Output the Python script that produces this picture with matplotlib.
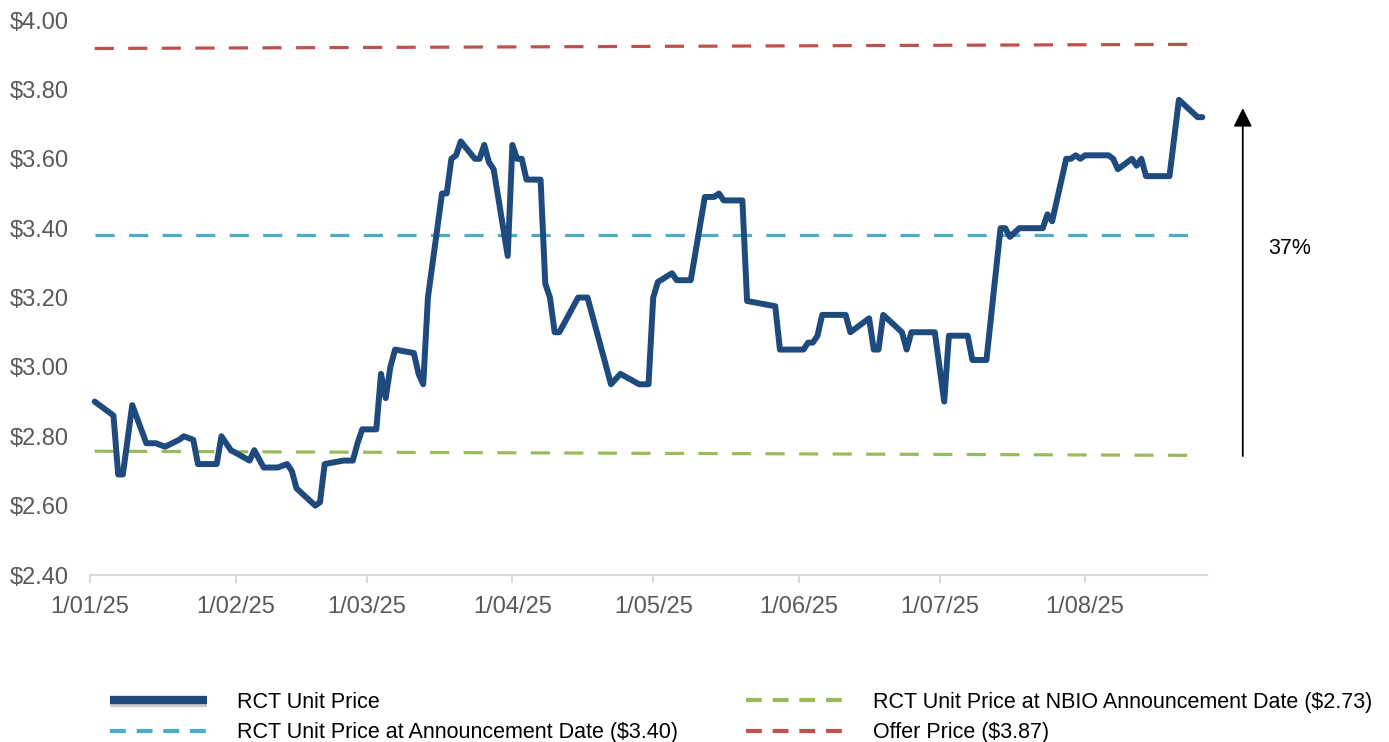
import pandas as pd
import matplotlib
matplotlib.use('Agg')
import matplotlib.pyplot as plt
import matplotlib.patheffects as pe
from matplotlib.ticker import StrMethodFormatter

plt.rcParams['font.family'] = ['Liberation Sans', 'DejaVu Sans']

# RCT unit price
price_dates = [
    '2025-01-02', '2025-01-06', '2025-01-07', '2025-01-08', '2025-01-10',
    '2025-01-13', '2025-01-15', '2025-01-17', '2025-01-20', '2025-01-21',
    '2025-01-23', '2025-01-24', '2025-01-28', '2025-01-29', '2025-01-31',
    '2025-02-04', '2025-02-05', '2025-02-07', '2025-02-10', '2025-02-12',
    '2025-02-13', '2025-02-14', '2025-02-18', '2025-02-19', '2025-02-20',
    '2025-02-24', '2025-02-26', '2025-02-27', '2025-02-28', '2025-03-03',
    '2025-03-04', '2025-03-05', '2025-03-06', '2025-03-07', '2025-03-11',
    '2025-03-12', '2025-03-13', '2025-03-14', '2025-03-17', '2025-03-18',
    '2025-03-19', '2025-03-20', '2025-03-21', '2025-03-24', '2025-03-25',
    '2025-03-26', '2025-03-27', '2025-03-28', '2025-03-31', '2025-04-01',
    '2025-04-02', '2025-04-03', '2025-04-04', '2025-04-07', '2025-04-08',
    '2025-04-09', '2025-04-10', '2025-04-11', '2025-04-15', '2025-04-17',
    '2025-04-22', '2025-04-24', '2025-04-28', '2025-04-30', '2025-05-01',
    '2025-05-02', '2025-05-05', '2025-05-06', '2025-05-09', '2025-05-12',
    '2025-05-14', '2025-05-15', '2025-05-16', '2025-05-20', '2025-05-21',
    '2025-05-23', '2025-05-27', '2025-05-28', '2025-06-02', '2025-06-03',
    '2025-06-04', '2025-06-05', '2025-06-06', '2025-06-11', '2025-06-12',
    '2025-06-16', '2025-06-17', '2025-06-18', '2025-06-19', '2025-06-23',
    '2025-06-24', '2025-06-25', '2025-06-30', '2025-07-02', '2025-07-03',
    '2025-07-07', '2025-07-08', '2025-07-11', '2025-07-14', '2025-07-15',
    '2025-07-16', '2025-07-18', '2025-07-23', '2025-07-24', '2025-07-25',
    '2025-07-28', '2025-07-29', '2025-07-30', '2025-07-31', '2025-08-01',
    '2025-08-06', '2025-08-07', '2025-08-08', '2025-08-11', '2025-08-12',
    '2025-08-13', '2025-08-14', '2025-08-19', '2025-08-21', '2025-08-25',
    '2025-08-26',
]
price_values = [
    2.90, 2.86, 2.69, 2.69, 2.89,
    2.78, 2.78, 2.77, 2.79, 2.80,
    2.79, 2.72, 2.72, 2.80, 2.76,
    2.73, 2.76, 2.71, 2.71, 2.72,
    2.70, 2.65, 2.60, 2.61, 2.72,
    2.73, 2.73, 2.78, 2.82, 2.82,
    2.98, 2.91, 3.00, 3.05, 3.04,
    2.98, 2.95, 3.20, 3.50, 3.50,
    3.60, 3.61, 3.65, 3.60, 3.60,
    3.64, 3.59, 3.57, 3.32, 3.64,
    3.60, 3.60, 3.54, 3.54, 3.24,
    3.20, 3.10, 3.10, 3.20, 3.20,
    2.95, 2.98, 2.95, 2.95, 3.20,
    3.245, 3.27, 3.25, 3.25, 3.49,
    3.49, 3.50, 3.48, 3.48, 3.19,
    3.185, 3.175, 3.05, 3.05, 3.07,
    3.07, 3.09, 3.15, 3.15, 3.10,
    3.14, 3.05, 3.05, 3.15, 3.10,
    3.05, 3.10, 3.10, 2.90, 3.09,
    3.09, 3.02, 3.02, 3.40, 3.40,
    3.375, 3.40, 3.40, 3.44, 3.42,
    3.60, 3.60, 3.61, 3.60, 3.61,
    3.61, 3.60, 3.57, 3.60, 3.58,
    3.60, 3.55, 3.55, 3.77, 3.72,
    3.72,
]

# reference lines (start / end as drawn)
ref_dates = ['2025-01-02', '2025-08-25']
announce_values = [3.38, 3.38]
nbio_values = [2.757, 2.745]
offer_values = [3.918, 3.930]

month_ticks = ['2025-01-01', '2025-02-01', '2025-03-01', '2025-04-01',
               '2025-05-01', '2025-06-01', '2025-07-01', '2025-08-01']
month_labels = ['1/01/25', '1/02/25', '1/03/25', '1/04/25',
                '1/05/25', '1/06/25', '1/07/25', '1/08/25']
y_ticks = [2.40, 2.60, 2.80, 3.00, 3.20, 3.40, 3.60, 3.80, 4.00]

arrow_low, arrow_high = 2.743, 3.746
arrow_label = '37%'

NAVY = '#1F4A7E'
CYAN = '#4BACC6'
GREEN = '#9BBB59'
RED = '#C0504D'
GREY = '#595959'

fig = plt.figure(figsize=(13.89, 7.42), dpi=100)
ax = fig.add_axes([0.0648, 0.225, 0.869 - 0.0648, 0.748])

dates = pd.to_datetime(price_dates)
rd = pd.to_datetime(ref_dates)

ax.plot(dates, price_values, color=NAVY, lw=4.3, solid_joinstyle='round',
        solid_capstyle='round', label='RCT Unit Price', zorder=5)
ax.plot(rd, announce_values, color=CYAN, lw=2.3, dashes=(6, 4.5),
        label='RCT Unit Price at Announcement Date ($3.40)')
ax.plot(rd, nbio_values, color=GREEN, lw=2.3, dashes=(6, 4.5),
        label='RCT Unit Price at NBIO Announcement Date ($2.73)')
ax.plot(rd, offer_values, color=RED, lw=2.3, dashes=(6, 4.5),
        label='Offer Price ($3.87)')

ax.set_xlim(pd.Timestamp('2025-01-01'), pd.Timestamp('2025-08-27'))
ax.set_ylim(2.40, 4.00)
ax.set_xticks(pd.to_datetime(month_ticks))
ax.set_xticklabels(month_labels)
ax.set_yticks(y_ticks)
ax.yaxis.set_major_formatter(StrMethodFormatter('${x:.2f}'))

for side in ['top', 'right', 'left']:
    ax.spines[side].set_visible(False)
ax.spines['bottom'].set_color('#D9D9D9')
ax.spines['bottom'].set_linewidth(1.5)
ax.tick_params(axis='x', colors='#D9D9D9', length=6, width=1.5, pad=9,
               labelcolor=GREY, labelsize=17)
ax.tick_params(axis='y', length=0, pad=15, labelcolor=GREY, labelsize=17)

# arrow showing the move up to the offer
ax.annotate('', xy=(1.032, arrow_high), xytext=(1.032, arrow_low),
            xycoords=('axes fraction', 'data'), textcoords=('axes fraction', 'data'),
            arrowprops=dict(arrowstyle='-|>', color='black', lw=1.3,
                            mutation_scale=28, shrinkA=0, shrinkB=0),
            annotation_clip=False)
ax.text(1.074, 3.342, arrow_label, transform=ax.get_yaxis_transform(),
        ha='center', va='center', fontsize=15.5, color='black')

handles, labels = ax.get_legend_handles_labels()
leg = fig.legend(handles, labels,
                 ncol=2, loc='upper left', bbox_to_anchor=(0.0795, 0.068),
                 frameon=False, fontsize=15.5, handlelength=4.5,
                 handletextpad=1.4, columnspacing=3.15, labelspacing=0.45,
                 borderaxespad=0, borderpad=0)
for text in leg.get_texts():
    text.set_color('black')
navy_handle = leg.get_lines()[0]
navy_handle.set_linewidth(6)
navy_handle.set_solid_capstyle('butt')
navy_handle.set_path_effects([
    pe.SimpleLineShadow(offset=(0, -2), shadow_color='black', alpha=0.2),
    pe.Normal(),
])
for line in leg.get_lines()[1:]:
    line.set_linewidth(3)
    line.set_dashes((3.8, 2.6))

fig.savefig('out.png', dpi=100)
